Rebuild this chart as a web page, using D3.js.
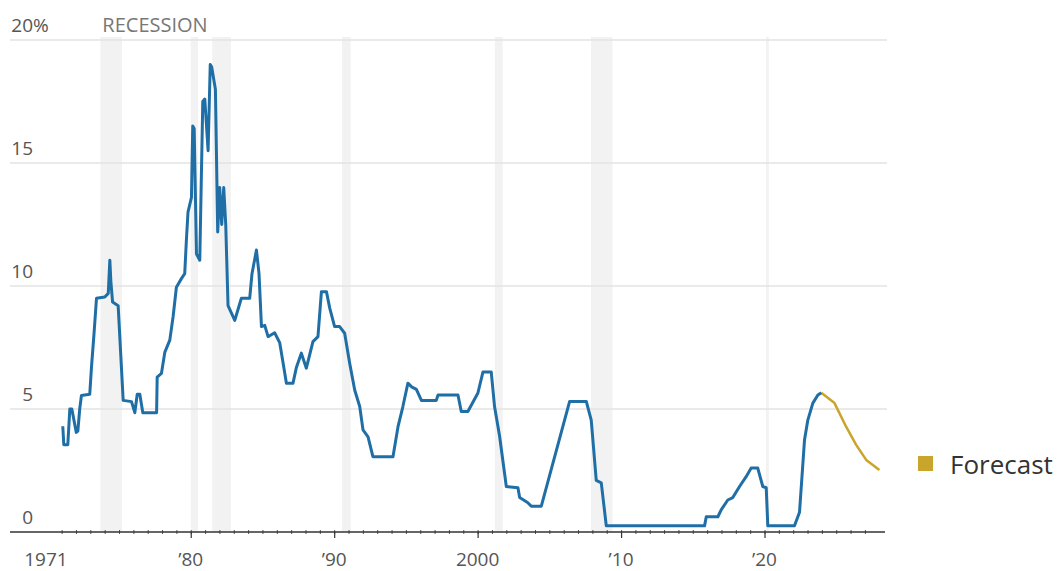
<!DOCTYPE html>
<html>
<head>
<meta charset="utf-8">
<script src="https://cdn.jsdelivr.net/npm/d3@7/dist/d3.min.js"></script>
<style>
  html, body { margin: 0; padding: 0; background: #fff; }
  svg { display: block; }
  text { font-family: "Open Sans", "Noto Sans", sans-serif; }
</style>
</head>
<body>
<svg id="chart" width="1063" height="571"></svg>
<script>
// Federal funds rate, percent (decimal year, value)
const rateYears = [
  1971.08, 1971.15, 1971.43, 1971.57, 1971.71, 1972.02, 1972.13, 1972.26, 1972.38, 1972.96,
  1973.08, 1973.25, 1973.43, 1974.01, 1974.25, 1974.36, 1974.43, 1974.55, 1974.94, 1975.29,
  1975.87, 1976.10, 1976.27, 1976.45, 1976.66, 1977.62, 1977.66, 1977.96, 1978.19, 1978.54,
  1978.77, 1979.00, 1979.35, 1979.58, 1979.70, 1979.81, 1980.05, 1980.14, 1980.24, 1980.40,
  1980.63, 1980.84, 1980.98, 1981.21, 1981.36, 1981.46, 1981.72, 1981.88, 1982.02, 1982.16,
  1982.30, 1982.44, 1982.60, 1983.07, 1983.53, 1984.11, 1984.27, 1984.58, 1984.76, 1984.93,
  1985.16, 1985.39, 1985.85, 1986.20, 1986.43, 1986.67, 1987.13, 1987.37, 1987.71, 1988.06,
  1988.52, 1988.87, 1989.11, 1989.46, 1989.69, 1990.03, 1990.38, 1990.73, 1991.08, 1991.43,
  1991.78, 1992.01, 1992.36, 1992.70, 1994.10, 1994.45, 1994.79, 1995.14, 1995.40, 1995.73,
  1996.08, 1997.12, 1997.24, 1998.63, 1998.86, 1999.32, 2000.02, 2000.37, 2000.95, 2001.18,
  2001.53, 2002.00, 2002.81, 2002.93, 2003.48, 2003.74, 2004.44, 2006.41, 2007.58, 2007.92,
  2008.27, 2008.62, 2008.97, 2015.82, 2015.94, 2016.75, 2016.98, 2017.44, 2017.79, 2018.26,
  2018.72, 2019.07, 2019.53, 2019.88, 2020.12, 2020.23, 2022.09, 2022.44, 2022.79, 2023.02,
  2023.37, 2023.72, 2023.96
];
const rateValues = [
  4.3, 3.55, 3.55, 5.0, 5.0, 4.05, 4.1, 5.0, 5.55, 5.6,
  6.7, 8.0, 9.5, 9.55, 9.7, 11.05, 10.2, 9.35, 9.2, 5.35,
  5.3, 4.85, 5.6, 5.6, 4.85, 4.85, 6.3, 6.45, 7.3, 7.8,
  8.75, 9.95, 10.3, 10.5, 11.9, 13.0, 13.6, 16.5, 16.4, 11.3,
  11.05, 17.5, 17.6, 15.5, 19.0, 18.9, 18.0, 12.2, 14.0, 12.5,
  14.0, 12.5, 9.2, 8.6, 9.5, 9.5, 10.5, 11.46, 10.5, 8.35,
  8.4, 7.94, 8.1, 7.7, 6.9, 6.05, 6.05, 6.7, 7.27, 6.66,
  7.74, 7.94, 9.77, 9.77, 9.1, 8.35, 8.35, 8.08, 6.86, 5.77,
  5.1, 4.15, 3.87, 3.06, 3.06, 4.28, 5.1, 6.05, 5.9, 5.8,
  5.35, 5.35, 5.57, 5.57, 4.9, 4.9, 5.65, 6.5, 6.5, 5.1,
  3.9, 1.85, 1.8, 1.4, 1.2, 1.05, 1.05, 5.3, 5.3, 4.55,
  2.1, 2.0, 0.25, 0.25, 0.62, 0.62, 0.9, 1.3, 1.4, 1.85,
  2.25, 2.6, 2.6, 1.85, 1.8, 0.25, 0.25, 0.8, 3.75, 4.55,
  5.24, 5.57, 5.66
];

// Forecast path
const forecastYears  = [2023.96, 2024.88, 2025.69, 2026.39, 2027.09, 2028.01];
const forecastValues = [5.66, 5.24, 4.28, 3.54, 2.93, 2.52];

// Recessions (decimal year start / end)
const recessionStarts = [1973.7, 1980.0, 1981.5, 1990.55, 2001.2, 2007.9, 2020.1];
const recessionEnds   = [1975.2, 1980.5, 1982.8, 1991.15, 2001.75, 2009.4, 2020.3];

// Axis ticks
const yTickValues  = [0, 5, 10, 15, 20];
const xMajorYears  = [1980, 1990, 2000, 2010, 2020];
const xMajorLabels = ["\u201980", "\u201990", "2000", "\u201910", "\u201920"];
const xFirstYear   = 1971;
const xFirstLabel  = "1971";
const xMinorYears  = d3.range(1971, 2028);

const svg = d3.select("#chart");

const x = d3.scaleLinear().domain([1967.4, 2028.4]).range([10, 885]);
const y = d3.scaleLinear().domain([0, 20]).range([532, 40]);

const plotLeft = 10, plotRight = 887;

// Recession bands
svg.append("g")
  .selectAll("rect")
  .data(recessionStarts.map((s, i) => [s, recessionEnds[i]]))
  .join("rect")
  .attr("x", d => x(d[0]))
  .attr("width", d => Math.max(2.5, x(d[1]) - x(d[0])))
  .attr("y", y(20) - 3)
  .attr("height", y(0) - y(20) + 3)
  .attr("fill", "#f2f2f2");

svg.append("text")
  .attr("x", x(recessionStarts[0]) + 2)
  .attr("y", 32)
  .attr("font-size", 20)
  .attr("fill", "#777")
  .text("RECESSION");

// Horizontal gridlines
svg.append("g")
  .selectAll("line")
  .data(yTickValues.filter(v => v > 0))
  .join("line")
  .attr("x1", plotLeft).attr("x2", plotRight)
  .attr("y1", d => y(d)).attr("y2", d => y(d))
  .attr("stroke", "#e3e3e3")
  .attr("stroke-width", 1.5);

// Y labels sitting above the gridlines
const yLab = svg.append("g").attr("font-size", 19).attr("fill", "#555");
yLab.selectAll("text.num")
  .data(yTickValues)
  .join("text")
  .attr("class", "num")
  .attr("x", 33)
  .attr("y", d => y(d) - 8)
  .attr("text-anchor", "end")
  .text(d => d);
yLab.append("text")
  .attr("x", 33)
  .attr("y", y(20) - 8)
  .text("%");

// X axis: yearly minor ticks, decade major ticks
const axisG = svg.append("g").attr("transform", `translate(0,${y(0)})`);
axisG.call(d3.axisBottom(x).tickValues(xMinorYears).tickSize(2).tickFormat(""))
  .call(g => g.select(".domain").remove())
  .call(g => g.selectAll(".tick line").attr("y1", -2).attr("y2", 2)
              .attr("stroke", "#555").attr("stroke-width", 1));
axisG.append("g")
  .call(d3.axisBottom(x).tickValues(xMajorYears).tickSize(6).tickFormat(""))
  .call(g => g.select(".domain").remove())
  .call(g => g.selectAll(".tick line").attr("stroke", "#333").attr("stroke-width", 1.2));
axisG.append("line")
  .attr("x1", 10).attr("x2", 885)
  .attr("stroke", "#333").attr("stroke-width", 1.5);

const xLab = svg.append("g").attr("font-size", 19).attr("fill", "#555");
xLab.selectAll("text")
  .data(xMajorYears)
  .join("text")
  .attr("x", d => x(d))
  .attr("y", 566)
  .attr("text-anchor", "middle")
  .text((d, i) => xMajorLabels[i]);
xLab.append("text")
  .attr("x", x(xFirstYear) + 6)
  .attr("y", 566)
  .attr("text-anchor", "end")
  .text(xFirstLabel);

// Lines
const line = d3.line().x(d => x(d[0])).y(d => y(d[1]));

svg.append("path")
  .datum(forecastYears.map((t, i) => [t, forecastValues[i]]))
  .attr("d", line)
  .attr("fill", "none")
  .attr("stroke", "#c9a52c")
  .attr("stroke-width", 2.5)
  .attr("stroke-linejoin", "round");

svg.append("path")
  .datum(rateYears.map((t, i) => [t, rateValues[i]]))
  .attr("d", line)
  .attr("fill", "none")
  .attr("stroke", "#1f6fa6")
  .attr("stroke-width", 3)
  .attr("stroke-linejoin", "round");

// Legend
svg.append("rect")
  .attr("x", 918).attr("y", 456)
  .attr("width", 15).attr("height", 15)
  .attr("fill", "#c9a52c");
svg.append("text")
  .attr("x", 950).attr("y", 474)
  .attr("font-size", 26)
  .attr("fill", "#333")
  .text("Forecast");
</script>
</body>
</html>
